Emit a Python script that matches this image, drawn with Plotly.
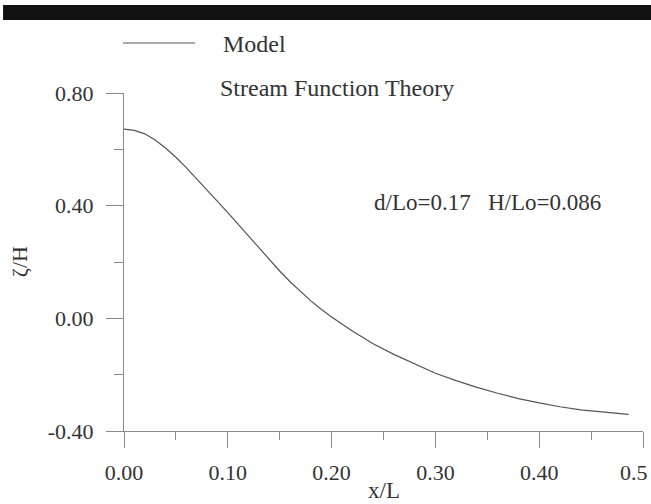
import plotly.graph_objects as go

# Data
x_vals = [0.000, 0.010, 0.020, 0.030, 0.040, 0.050, 0.060, 0.070, 0.080, 0.090,
          0.100, 0.110, 0.120, 0.130, 0.140, 0.150, 0.160, 0.170, 0.180, 0.190,
          0.200, 0.220, 0.240, 0.260, 0.280, 0.300, 0.320, 0.340, 0.360, 0.380,
          0.400, 0.420, 0.440, 0.460, 0.480, 0.486]
zeta_h = [0.672, 0.667, 0.655, 0.633, 0.605, 0.572, 0.535, 0.496, 0.455, 0.415,
          0.375, 0.333, 0.292, 0.250, 0.208, 0.168, 0.130, 0.095, 0.062, 0.032,
          0.005, -0.045, -0.090, -0.128, -0.162, -0.195, -0.221, -0.245, -0.266, -0.285,
          -0.300, -0.314, -0.325, -0.333, -0.339, -0.341]

x_ticks = [0.0, 0.1, 0.2, 0.3, 0.4, 0.5]
x_labels = ["0.00", "0.10", "0.20", "0.30", "0.40", "0.5"]
y_ticks = [-0.4, 0.0, 0.4, 0.8]
y_labels = ["-0.40", "0.00", "0.40", "0.80"]

FONT = "Liberation Serif"
TXT = "#333333"
AX = "#8a8a8a"

fig = go.Figure()
fig.add_trace(go.Scatter(x=x_vals, y=zeta_h, mode="lines",
                         line=dict(color="#555555", width=1.2),
                         name="Model", showlegend=False))

# the last x tick label sits at the page edge; it is drawn separately so it stays visible
axis_text = x_labels[:-1] + [""]

fig.update_layout(
    width=651, height=504,
    margin=dict(l=124, r=8, t=93, b=73),
    paper_bgcolor="white", plot_bgcolor="white",
    font=dict(family=FONT, size=22, color=TXT),
    xaxis=dict(range=[0, 0.5], tickvals=x_ticks, ticktext=axis_text,
               showgrid=False, zeroline=False, showline=True,
               linecolor=AX, linewidth=1, automargin=False,
               ticks="outside", ticklen=16, tickcolor=AX, tickwidth=1,
               minor=dict(dtick=0.05, ticks="outside", ticklen=8, tickcolor=AX, showgrid=False),
               tickfont=dict(family=FONT, size=22, color=TXT),
               ticklabelstandoff=6, ticklabeloverflow="allow"),
    yaxis=dict(range=[-0.4, 0.8], tickvals=y_ticks, ticktext=y_labels,
               showgrid=False, zeroline=False, showline=True,
               linecolor=AX, linewidth=1, automargin=False,
               ticks="outside", ticklen=17, tickcolor=AX, tickwidth=1,
               minor=dict(dtick=0.2, tick0=0, ticks="outside", ticklen=9, tickcolor=AX, showgrid=False),
               tickfont=dict(family=FONT, size=22, color=TXT),
               ticklabelstandoff=8),
)

fig.add_annotation(text=x_labels[-1], x=x_ticks[-1], xref="x", yref="paper", y=-0.124,
                   xanchor="left", yanchor="middle", xshift=-25, showarrow=False,
                   font=dict(family=FONT, size=22, color=TXT))

# Top black bar (scan artefact)
fig.add_shape(type="rect", xref="paper", yref="paper",
              x0=-0.233, x1=1.02, y0=1.216, y1=1.260,
              fillcolor="#111111", line=dict(width=0), layer="above")

# Legend
fig.add_shape(type="line", xref="paper", yref="paper",
              x0=-0.002, x1=0.137, y0=1.148, y1=1.148,
              line=dict(color="#555555", width=1.2))
fig.add_annotation(text="Model", xref="paper", yref="paper", x=0.187, y=1.145,
                   xanchor="left", yanchor="middle", showarrow=False,
                   font=dict(family=FONT, size=24, color=TXT))
fig.add_annotation(text="Stream Function Theory", xref="paper", yref="paper", x=0.181, y=1.015,
                   xanchor="left", yanchor="middle", showarrow=False,
                   font=dict(family=FONT, size=24, color=TXT))

# Parameters text
fig.add_annotation(text="d/Lo=0.17&nbsp;&nbsp;&nbsp;H/Lo=0.086", x=0.239, y=0.413,
                   xanchor="left", yanchor="middle", showarrow=False,
                   font=dict(family=FONT, size=23, color=TXT))

# Axis titles
fig.add_annotation(text="x/L", xref="paper", yref="paper", x=0.5, y=-0.175,
                   xanchor="center", yanchor="middle", showarrow=False,
                   font=dict(family=FONT, size=23, color=TXT))
fig.add_annotation(text="ζ/H", xref="paper", yref="paper", x=-0.202, y=0.5,
                   xanchor="center", yanchor="middle", textangle=-90, showarrow=False,
                   font=dict(family=FONT, size=22, color=TXT))

fig.write_html("out.html")
